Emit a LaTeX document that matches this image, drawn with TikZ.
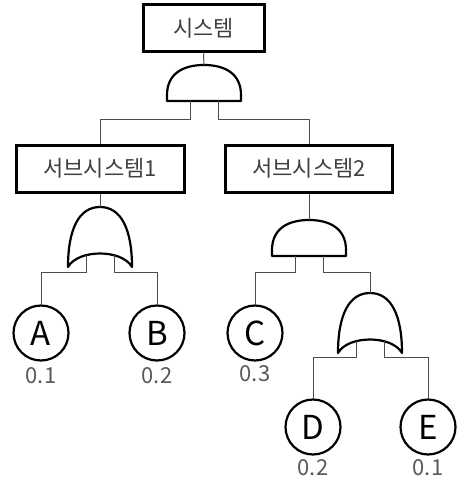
\documentclass[tikz,border=0pt]{standalone}
\usepackage{fontspec}
\setmainfont{Noto Sans CJK KR}
\usetikzlibrary{positioning}

\tikzset{
    box/.style={draw,line width=3pt,minimum height=47pt,inner sep=0pt,text=black!75,font=\fontsize{22}{24}\selectfont},
    event/.style={circle,draw,line width=2.2pt,minimum size=55pt,inner sep=0pt,font=\fontsize{33}{36}\selectfont},
    prob/.style={text=black!65,inner sep=0pt,font=\fontsize{22}{24}\selectfont},
    gate/.style={draw,line width=2.2pt,line join=round},
    wire/.style={draw=black!70,line width=1pt},
}

% gates: name, top point
\def\andgate#1#2{
    \begin{scope}[shift={#2}]
        \draw[gate] (-37,36) -- (-37,30) .. controls (-37,8) and (-20,0) .. (0,0)
            .. controls (20,0) and (37,8) .. (37,30) -- (37,36) -- cycle;
        \coordinate (#1) at (0,0);
        \coordinate (#1-in1) at (-14,36);
        \coordinate (#1-in2) at (14,36);
    \end{scope}
}
\def\orgate#1#2{
    \begin{scope}[shift={#2}]
        \draw[gate] (-32,60) .. controls (-32,22) and (-21,0) .. (0,0)
            .. controls (21,0) and (32,22) .. (32,60)
            .. controls (22,42) and (-22,42) .. cycle;
        \coordinate (#1) at (0,0);
        \coordinate (#1-in1) at (-14,48);
        \coordinate (#1-in2) at (14,48);
    \end{scope}
}

\begin{document}
\begin{tikzpicture}[x=1pt,y=-1pt]
\useasboundingbox (0,0) rectangle (461,484);

    \node[box,minimum width=121pt] (sys) at (203.5,28.5) {시스템};
    \node[box,minimum width=168pt] (sub1) at (100,168.5) {서브시스템1};
    \node[box,minimum width=167pt] (sub2) at (309,168.5) {서브시스템2};

    \andgate{top}{(204,65)}
    \orgate{or1}{(100,207)}
    \andgate{and2}{(309,220)}
    \orgate{or2}{(370,293)}

    \node[event] (A) at (41,333) {A};
    \node[event] (B) at (157,333) {B};
    \node[event] (C) at (255,333) {C};
    \node[event] (D) at (313,427) {D};
    \node[event] (E) at (428,427) {E};

    \node[prob,below=6pt of A] (pA) {0.1};
    \node[prob,below=6pt of B] (pB) {0.2};
    \node[prob,below=4pt of C] (pC) {0.3};
    \node[prob,below=4pt of D] (pD) {0.2};
    \node[prob,below=4pt of E] (pE) {0.1};

    \draw[wire] (sys.south) -- (top);
    \draw[wire] (top-in1) -- ++(0,19) -| (sub1.north);
    \draw[wire] (top-in2) -- ++(0,19) -| (sub2.north);
    \draw[wire] (sub1.south) -- (or1);
    \draw[wire] (sub2.south) -- (and2);
    \draw[wire] (or1-in1) -- ++(0,17) -| (A.north);
    \draw[wire] (or1-in2) -- ++(0,17) -| (B.north);
    \draw[wire] (and2-in1) -- ++(0,16) -| (C.north);
    \draw[wire] (and2-in2) -- ++(0,16) -| (or2);
    \draw[wire] (or2-in1) -- ++(0,16) -| (D.north);
    \draw[wire] (or2-in2) -- ++(0,16) -| (E.north);

\end{tikzpicture}
\end{document}
